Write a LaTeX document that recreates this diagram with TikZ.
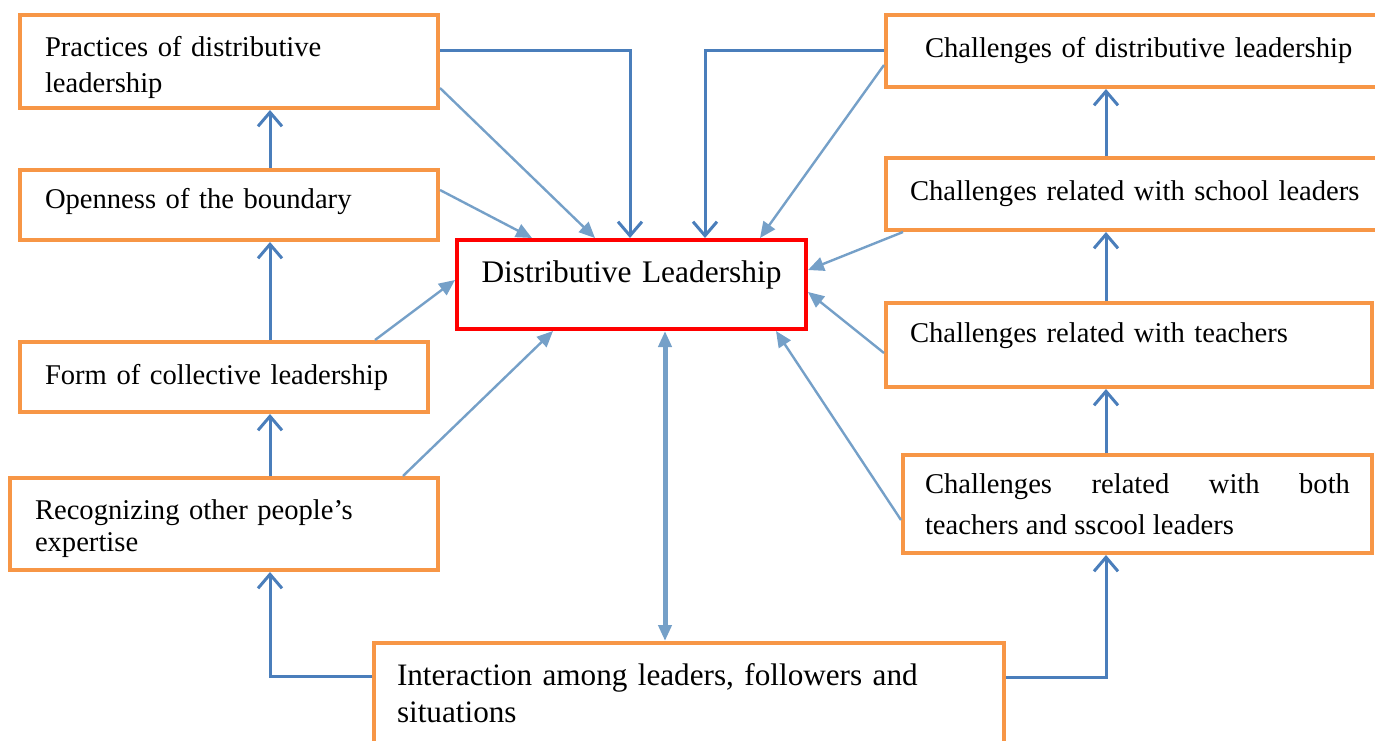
\documentclass[tikz,border=0pt]{standalone}
\usepackage{fontspec}
\setmainfont{Liberation Serif}
\usetikzlibrary{arrows.meta}

\definecolor{boxorange}{RGB}{247,150,70}
\definecolor{linkblue}{RGB}{74,126,187}
\definecolor{feedblue}{RGB}{117,160,200}
\newcommand{\boxgap}[1]{\par\nointerlineskip\kern#1\relax}

\tikzset{
  box/.style={draw=boxorange, line width=2pt, inner sep=0pt, align=left,
    font=\fontsize{14.3}{18}\selectfont},
  keybox/.style={draw=red, line width=2pt, inner sep=0pt, align=center,
    font=\fontsize{15.7}{19}\selectfont},
  climb/.style={draw=linkblue, line width=1.5pt, -{Straight Barb[length=7pt,width=12pt]}},
  feed/.style={draw=feedblue, line width=1.2pt, -{Triangle[length=8pt,width=7pt]}},
  spine/.style={draw=feedblue, line width=2.5pt,
    {Triangle[length=8pt,width=6.5pt]}-{Triangle[length=8pt,width=6.5pt]}}
}

\begin{document}
\begin{tikzpicture}[x=0.5pt, y=-0.5pt]
  \useasboundingbox (0,0) rectangle (1375,740);
  \clip (0,0) rectangle (1375,740);

  % left column
  \node[box, minimum width=209pt, minimum height=46.5pt, text width=184pt] (prac) at (229,61.5)
    {Practices of distributive\\leadership\boxgap{-6pt}};
  \node[box, minimum width=209pt, minimum height=35pt, text width=184pt] (open) at (229,205)
    {Openness of the boundary\boxgap{3pt}};
  \node[box, minimum width=204pt, minimum height=35pt, text width=179pt] (form) at (224,377)
    {Form of collective leadership};
  \node[box, minimum width=214pt, minimum height=46pt, text width=189pt,
    font=\fontsize{14.3}{16}\selectfont] (recog) at (224,524)
    {Recognizing other people’s\\expertise\boxgap{-5pt}};

  % centre and bottom
  \node[keybox, minimum width=174.5pt, minimum height=44.5pt, text width=160pt] (dl) at (631.5,284.5)
    {Distributive Leadership\boxgap{10pt}};
  \node[box, minimum width=315pt, minimum height=55pt, text width=292pt,
    font=\fontsize{15.6}{18.5}\selectfont] (inter) at (689,698)
    {Interaction among leaders, followers and\\situations\boxgap{5pt}};

  % right column
  \node[box, minimum width=267pt, minimum height=36pt, text width=228pt] (chdl) at (1153,51)
    {Challenges of distributive leadership};
  \node[box, minimum width=267pt, minimum height=36pt, text width=243pt] (chsl) at (1153,194)
    {Challenges related with school leaders};
  \node[box, minimum width=243pt, minimum height=42pt, text width=219pt] (chte) at (1129,345)
    {Challenges related with teachers\boxgap{9pt}};
  \node[box, minimum width=234.5pt, minimum height=49pt, text width=212.5pt, align=justify,
    font=\fontsize{14.3}{20.5}\selectfont] (both) at (1137.5,504)
    {Challenges related with both\linebreak teachers and sscool leaders};

  \coordinate (lt) at (270,0);
  \coordinate (rt) at (1106,0);
  \coordinate (tl) at (630,50);
  \coordinate (tr) at (705,50);

  % chains of dark arrows
  \draw[climb] (recog.north -| lt) -- (form.south -| lt);
  \draw[climb] (form.north -| lt) -- (open.south -| lt);
  \draw[climb] (open.north -| lt) -- (prac.south -| lt);
  \draw[climb] (inter.west |- 0,676) -| (recog.south -| lt);
  \draw[climb] (inter.east |- 0,677) -| (both.south -| rt);
  \draw[climb] (both.north -| rt) -- (chte.south -| rt);
  \draw[climb] (chte.north -| rt) -- (chsl.south -| rt);
  \draw[climb] (chsl.north -| rt) -- (chdl.south -| rt);
  \draw[climb] (prac.east |- tl) -| (dl.north -| tl);
  \draw[climb] (chdl.west |- tr) -| (dl.north -| tr);

  % light arrows into the centre
  \draw[feed] (prac.east |- 0,88) -- (dl.north -| 595,0);
  \draw[feed] (open.east |- 0,190) -- (dl.north -| 532,0);
  \draw[feed] (form.north -| 375,0) -- (dl.west |- 0,280);
  \draw[feed] (recog.north -| 403,0) -- (dl.south -| 553,0);
  \draw[feed] (chdl.west |- 0,65) -- (dl.north -| 760,0);
  \draw[feed] (chsl.south -| 903,0) -- (dl.east |- 0,270);
  \draw[feed] (chte.west |- 0,353) -- (dl.east |- 0,292);
  \draw[feed] (both.west |- 0,520) -- (dl.south -| 776,0);
  \draw[spine] (dl.south -| 665,0) -- (inter.north -| 665,0);
\end{tikzpicture}
\end{document}
